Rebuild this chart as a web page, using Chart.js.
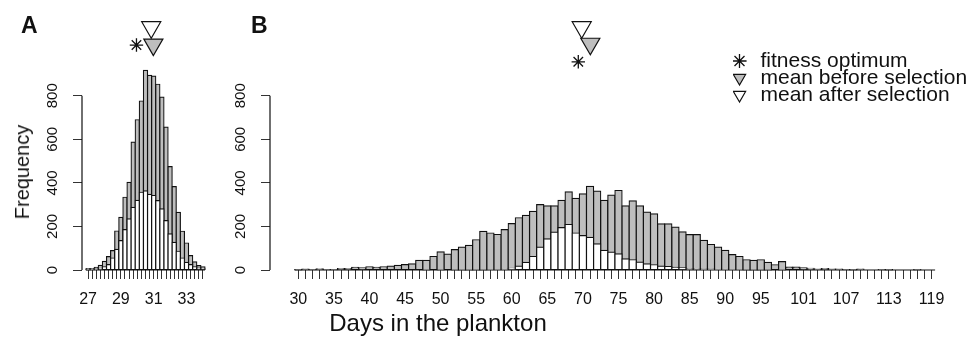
<!DOCTYPE html>
<html>
<head>
<meta charset="utf-8">
<script src="https://cdn.jsdelivr.net/npm/chart.js@4.4.1/dist/chart.umd.min.js"></script>
<style>
  body { margin: 0; background: #fff; }
  #wrap { position: relative; width: 975px; height: 338px; overflow: hidden;
          font-family: 'Liberation Sans', Arial, sans-serif; color: #111; }
  canvas { position: absolute; }
  #chartA { left: 0; top: 0; }
  #chartB { left: 215px; top: 0; }
  #legendBox { left: 733px; top: 38px; }
  .panel { position: absolute; top: 14px; font-weight: bold; font-size: 23px; line-height: 1; }
  #xTitle { position: absolute; left: 288px; width: 300px; top: 311px; text-align: center;
            font-size: 24px; line-height: 1; white-space: nowrap; }
  #yTitle { position: absolute; left: 22px; top: 172px; font-size: 20px; line-height: 1;
            white-space: nowrap; transform: translate(-50%, -50%) rotate(-90deg); }
</style>
</head>
<body>
<div id="wrap">
  <canvas id="chartA" width="215" height="338"></canvas>
  <canvas id="chartB" width="760" height="338"></canvas>
  <canvas id="legendBox" width="540" height="80"></canvas>
  <div class="panel" style="left:21px">A</div>
  <div class="panel" style="left:251px">B</div>
  <div id="yTitle">Frequency</div>
  <div id="xTitle">Days in the plankton</div>
</div>
<script>
// Panel A: narrow distribution, 0.25-day bins
const daysA = [27, 27.25, 27.5, 27.75, 28, 28.25, 28.5, 28.75, 29, 29.25, 29.5, 29.75,
  30, 30.25, 30.5, 30.75, 31, 31.25, 31.5, 31.75, 32, 32.25, 32.5, 32.75, 33, 33.25, 33.5, 33.75, 34];
const beforeA = [6, 6, 12, 21, 40, 61, 89, 179, 242, 334, 402, 587, 690, 776, 917, 894, 890,
  853, 794, 656, 475, 383, 265, 178, 124, 66, 37, 20, 15];
const afterA = [1, 2, 4, 8, 15, 25, 55, 95, 135, 185, 235, 288, 320, 357, 363, 347, 342,
  319, 281, 227, 166, 127, 86, 55, 35, 25, 15, 9, 9];
const tickLabelsA = [27, 29, 31, 33];

// Panel B: wide distribution, 1-day bins
const daysB = [30, 31, 32, 33, 34, 35, 36, 37, 38, 39, 40, 41, 42, 43, 44, 45, 46, 47, 48, 49,
  50, 51, 52, 53, 54, 55, 56, 57, 58, 59, 60, 61, 62, 63, 64, 65, 66, 67, 68, 69,
  70, 71, 72, 73, 74, 75, 76, 77, 78, 79, 80, 81, 82, 83, 84, 85, 86, 87, 88, 89,
  90, 91, 92, 93, 94, 95, 96, 97, 98, 99, 100, 101, 102, 103, 104, 105, 106, 107, 108, 109,
  110, 111, 112, 113, 114, 115, 116, 117, 118, 119];
const beforeB = [1, 4, 2, 5, 2, 2, 7, 7, 12, 10,
  15, 12, 15, 18, 21, 25, 28, 44, 44, 62,
  83, 73, 94, 105, 113, 139, 177, 170, 163, 185,
  213, 240, 251, 269, 300, 294, 294, 320, 359, 329,
  350, 384, 362, 320, 344, 365, 294, 317, 294, 266,
  258, 212, 212, 197, 175, 162, 162, 136, 117, 105,
  90, 71, 62, 47, 44, 47, 35, 24, 38, 13,
  13, 10, 8, 4, 7, 4, 4, 2, 1, 4,
  0, 0, 2, 1, 0, 0, 0, 1, 0, 0];
const afterB = [0, 0, 0, 0, 0, 0, 0, 0, 0, 0,
  0, 0, 0, 0, 0, 0, 0, 0, 1, 0,
  1, 0, 1, 1, 1, 1, 1, 2, 2, 3,
  8, 18, 35, 62, 105, 143, 174, 195, 209, 170,
  158, 150, 120, 90, 82, 74, 51, 47, 36, 28,
  24, 18, 16, 12, 10, 6, 5, 4, 4, 3,
  3, 2, 2, 1, 1, 1, 1, 0, 1, 0,
  0, 0, 0, 0, 0, 0, 0, 0, 0, 0,
  0, 0, 0, 0, 0, 0, 0, 0, 0, 0];
const tickLabelsB = [30, 35, 40, 45, 50, 55, 60, 65, 70, 75, 80, 85, 90, 95, 101, 107, 113, 119];

const yTicks = [0, 200, 400, 600, 800];

// marker positions in days: [panel A, panel B]
const optimum = [29.95, 69.35];
const meanBefore = [30.98, 71.04];
const meanAfter = [30.85, 69.83];

// heights (in count units) where the markers sit above the bars
const markerY = {
  A: { optimum: 1033, before: 1035, after: 1115 },
  B: { optimum: 956, before: 1039, after: 1115 }
};

Chart.defaults.font.family = "'Liberation Sans', Arial, sans-serif";
Chart.defaults.color = '#111';

const GREY = '#bebebe';
const INK = '#111';
const Y_MAX = 1200;          // room above the bars for the markers
const BASE_Y = 270;          // pixel row of the zero line
const PX_PER_UNIT = 0.21778; // vertical scale

// keep the chart area exactly where the layout puts it
function noScalePadding(s) {
  s.paddingLeft = 0;
  s.paddingRight = 0;
  s.paddingTop = 0;
  s.paddingBottom = 0;
}

// R-style axis lines: y axis only from 0 to 800, x line only under the bars
function rAxes(days) {
  const bin = days[1] - days[0];
  return {
    id: 'rAxes',
    afterDatasetsDraw(chart) {
      const { ctx, chartArea, scales: { x, y } } = chart;
      const y0 = y.getPixelForValue(yTicks[0]);
      const yTop = y.getPixelForValue(yTicks[yTicks.length - 1]);
      const xl = x.getPixelForValue(days[0] - bin / 2);
      const xr = x.getPixelForValue(days[days.length - 1] + bin / 2);
      ctx.save();
      ctx.strokeStyle = INK;
      ctx.lineWidth = 1.2;
      ctx.beginPath();
      ctx.moveTo(chartArea.left, y0);
      ctx.lineTo(chartArea.left, yTop);
      ctx.moveTo(xl, y0);
      ctx.lineTo(xr, y0);
      ctx.stroke();
      ctx.restore();
    }
  };
}

function marker(style, x, y, fill) {
  const m = {
    type: 'scatter',
    data: [{ x: x, y: y }],
    pointStyle: style,
    pointBorderColor: INK,
    pointBackgroundColor: fill,
    order: 1,
    clip: false
  };
  if (style === 'star') {
    m.pointRadius = 6.7;
    m.pointBorderWidth = 1.3;
  } else {
    m.pointRadius = 11;
    m.pointBorderWidth = 1.2;
    m.pointRotation = 180;
  }
  return m;
}

function bars(days, values, fill, order) {
  return {
    type: 'bar',
    data: days.map((d, i) => ({ x: d, y: values[i] })),
    backgroundColor: fill,
    borderColor: INK,
    borderWidth: 1.2,
    inflateAmount: 0.6,
    borderSkipped: false,
    grouped: false,
    barPercentage: 1,
    categoryPercentage: 1,
    order: order,
    clip: false
  };
}

function histChart(id, p) {
  const k = p.panel === 'A' ? 0 : 1;
  const my = markerY[p.panel];
  return new Chart(document.getElementById(id), {
    type: 'bar',
    data: {
      datasets: [
        marker('star', optimum[k], my.optimum, INK),
        marker('triangle', meanBefore[k], my.before, GREY),
        marker('triangle', meanAfter[k], my.after, '#fff'),
        bars(p.days, p.after, '#fff', 2),
        bars(p.days, p.before, GREY, 3)
      ]
    },
    options: {
      responsive: false,
      animation: false,
      layout: {
        autoPadding: false,
        padding: { top: BASE_Y - Y_MAX * PX_PER_UNIT, bottom: 0, left: 0, right: 0 }
      },
      plugins: { legend: { display: false }, tooltip: { enabled: false } },
      scales: {
        x: {
          type: 'linear',
          min: p.xMin,
          max: p.xMax,
          offset: false,
          afterBuildTicks: s => { s.ticks = p.days.map(v => ({ value: v })); },
          afterFit: s => { s.height = 338 - BASE_Y; noScalePadding(s); },
          border: { display: false },
          grid: { offset: false, drawOnChartArea: false, tickLength: 9, color: '#333', lineWidth: 1 },
          ticks: {
            autoSkip: false, maxRotation: 0, minRotation: 0, padding: 11,
            color: INK, font: { size: 16 },
            callback: v => p.labels.includes(v) ? String(v) : ''
          }
        },
        y: {
          min: 0,
          max: Y_MAX,
          afterBuildTicks: s => { s.ticks = yTicks.map(v => ({ value: v })); },
          afterFit: s => { s.width = p.axisWidth; noScalePadding(s); },
          border: { display: false },
          grid: { drawOnChartArea: false, tickLength: 9, color: '#333', lineWidth: 1 },
          ticks: {
            minRotation: 90, maxRotation: 90, crossAlign: 'center', padding: 8,
            color: INK, font: { size: 15 }
          }
        }
      }
    },
    plugins: [rAxes(p.days)]
  });
}

// x ranges chosen so the y axis sits a little left of the first bar
histChart('chartA', {
  panel: 'A', days: daysA, before: beforeA, after: afterA, labels: tickLabelsA,
  xMin: 26.631, xMax: 34.736, axisWidth: 82
});
histChart('chartB', {
  panel: 'B', days: daysB, before: beforeB, after: afterB, labels: tickLabelsB,
  xMin: 26.02, xMax: 125.107, axisWidth: 55
});

new Chart(document.getElementById('legendBox'), {
  type: 'scatter',
  data: {
    datasets: [
      { label: 'fitness optimum', data: [], pointStyle: 'star',
        borderColor: INK, backgroundColor: INK, borderWidth: 1.3 },
      { label: 'mean before selection', data: [], pointStyle: 'triangle', rotation: 180,
        borderColor: INK, backgroundColor: GREY, borderWidth: 1.2 },
      { label: 'mean after selection', data: [], pointStyle: 'triangle', rotation: 180,
        borderColor: INK, backgroundColor: '#fff', borderWidth: 1.2 }
    ]
  },
  options: {
    responsive: false,
    animation: false,
    layout: { autoPadding: false, padding: 0 },
    plugins: {
      tooltip: { enabled: false },
      legend: {
        position: 'left',
        align: 'center',
        labels: { usePointStyle: true, boxHeight: 10, padding: -4, color: INK, font: { size: 21 } }
      }
    },
    scales: { x: { display: false }, y: { display: false } }
  }
});
</script>
</body>
</html>
